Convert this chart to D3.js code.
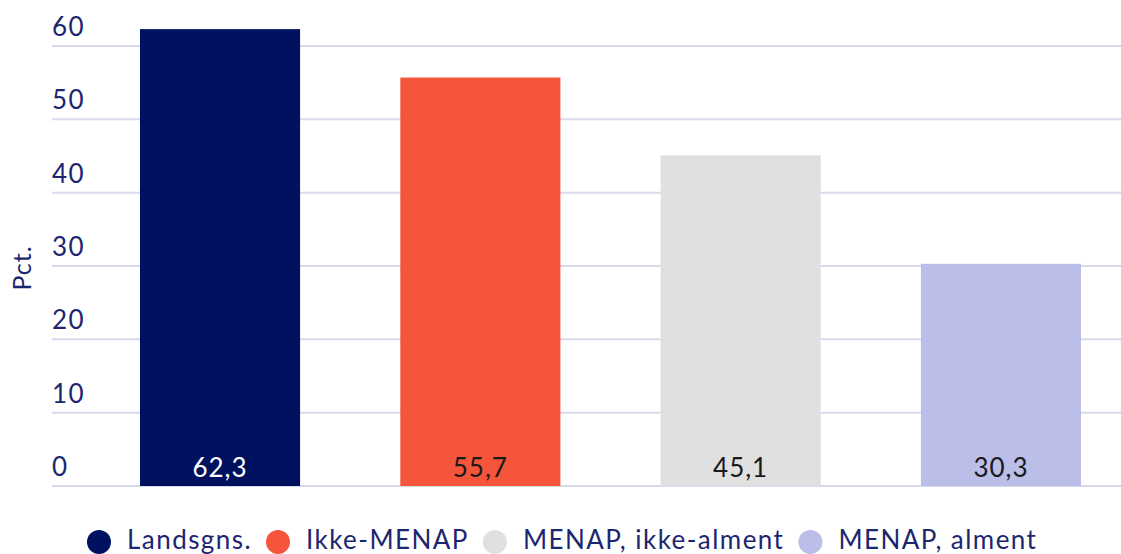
<!DOCTYPE html>
<html>
<head>
<meta charset="utf-8">
<script src="https://cdn.jsdelivr.net/npm/d3@7"></script>
<style>
  html, body { margin: 0; padding: 0; background: #ffffff; }
  svg { display: block; font-family: "Lato", "Open Sans", sans-serif; }
</style>
</head>
<body>
<div id="chart"></div>
<script>
const categories = ["Landsgns.", "Ikke-MENAP", "MENAP, ikke-alment", "MENAP, alment"];
const values = [62.3, 55.7, 45.1, 30.3];
const barColors = ["#001160", "#f5553b", "#e0e0e0", "#bcbeea"];
const labelColors = ["#ffffff", "#1a1a1a", "#1a1a1a", "#1a1a1a"];
const yTicks = [0, 10, 20, 30, 40, 50, 60];

const width = 1121;
const height = 554;
const navy = "#1c2670";

const svg = d3.select("#chart")
  .append("svg")
  .attr("width", width)
  .attr("height", height);

const y = d3.scaleLinear()
  .domain([0, 60])
  .range([486, 46]);

const x = d3.scaleBand()
  .domain(categories)
  .range([52, 1169])
  .paddingInner(0.385)
  .paddingOuter(0.338);

// gridlines
svg.append("g")
  .selectAll("line")
  .data(yTicks)
  .enter()
  .append("line")
  .attr("x1", 52)
  .attr("x2", width)
  .attr("y1", d => y(d))
  .attr("y2", d => y(d))
  .attr("stroke", "#d7d9ec")
  .attr("stroke-width", 2);

// tick labels sit above their gridline
svg.append("g")
  .selectAll("text")
  .data(yTicks)
  .enter()
  .append("text")
  .attr("x", 52)
  .attr("y", d => y(d) - 10)
  .attr("font-size", "26px")
  .attr("letter-spacing", "1.5px")
  .attr("fill", navy)
  .text(d => d);

svg.append("text")
  .attr("transform", "translate(31, 268) rotate(-90)")
  .attr("text-anchor", "middle")
  .attr("font-size", "25px")
  .attr("letter-spacing", "1px")
  .attr("fill", navy)
  .text("Pct.");

// bars
svg.append("g")
  .selectAll("rect")
  .data(categories)
  .enter()
  .append("rect")
  .attr("x", d => x(d))
  .attr("y", (d, i) => y(values[i]))
  .attr("width", x.bandwidth())
  .attr("height", (d, i) => y(0) - y(values[i]))
  .attr("fill", (d, i) => barColors[i]);

svg.append("g")
  .selectAll("text")
  .data(categories)
  .enter()
  .append("text")
  .attr("x", d => x(d) + x.bandwidth() / 2)
  .attr("y", y(0) - 9)
  .attr("text-anchor", "middle")
  .attr("font-size", "26px")
  .attr("letter-spacing", "1px")
  .attr("fill", (d, i) => labelColors[i])
  .text((d, i) => values[i].toFixed(1).replace(".", ","));

// legend
const legend = svg.append("g");
let lx = 87;
categories.forEach((c, i) => {
  legend.append("circle")
    .attr("cx", lx + 12)
    .attr("cy", 542)
    .attr("r", 12)
    .attr("fill", barColors[i]);
  const t = legend.append("text")
    .attr("x", lx + 40)
    .attr("y", 549)
    .attr("font-size", "26px")
    .attr("letter-spacing", "1.45px")
    .attr("fill", navy)
    .text(c);
  lx += 40 + t.node().getComputedTextLength() + 14;
});
</script>
</body>
</html>
